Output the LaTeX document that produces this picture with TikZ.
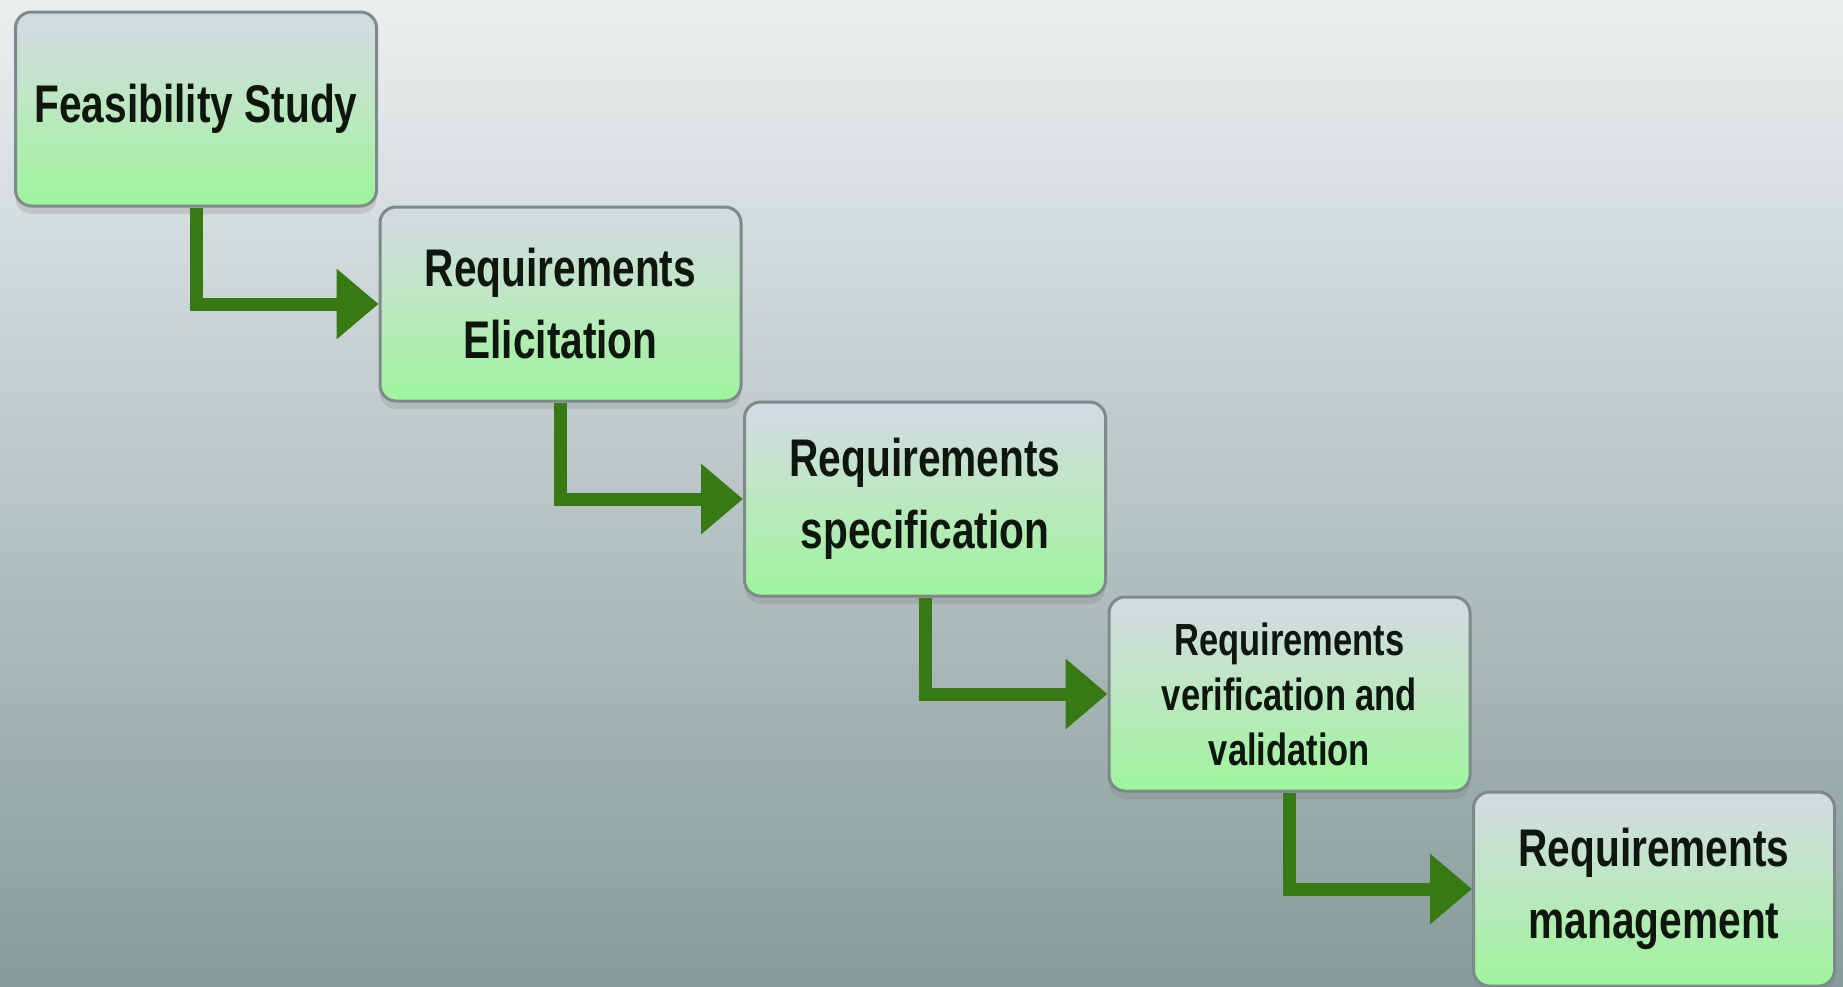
\documentclass[tikz,border=0pt]{standalone}
\usepackage{fontspec}
\newfontfamily\lblfont[FakeStretch=0.767]{Liberation Sans}
\usetikzlibrary{arrows.meta,shadows}
\definecolor{bgtop}{HTML}{ECEFF0}
\definecolor{bgmid}{HTML}{B9C5C6}
\definecolor{bgbot}{HTML}{879B9B}
\definecolor{boxtop}{HTML}{D4DAE4}
\definecolor{boxmid}{HTML}{BCE8C0}
\definecolor{boxbot}{HTML}{9EF59C}
\definecolor{boxline}{HTML}{7E8A8A}
\definecolor{flowgreen}{HTML}{377A14}
\definecolor{txt}{HTML}{0E160E}
\begin{document}
\begin{tikzpicture}[x=1pt,y=-1pt,
  stagebox/.style={rectangle, rounded corners=16pt, draw=boxline, line width=3pt,
    top color=boxtop, bottom color=boxbot, middle color=boxmid,
    minimum width=361pt, minimum height=194pt, align=center, text=txt,
    font=\lblfont\bfseries\fontsize{53}{72}\selectfont,
    drop shadow={opacity=0.25, shadow xshift=0pt, shadow yshift=-8pt}},
  smalltext/.style={font=\lblfont\bfseries\fontsize{45}{55}\selectfont},
  flow/.style={draw=flowgreen, line width=13pt,
    -{Triangle[length=42pt,width=68pt]}}
]
\useasboundingbox (0,0) rectangle (1843,986);
\shade[top color=bgtop, bottom color=bgbot, middle color=bgmid] (0,0) rectangle (1843,986);

\node[stagebox] (b1) at (196,109) {Feasibility Study};
\node[stagebox] (b2) at (560.5,304) {Requirements\\Elicitation};
\node[stagebox] (b3) at (925,499) {Requirements\\specification};
\node[stagebox, smalltext] (b4) at (1289.5,694) {Requirements\\verification and\\validation};
\node[stagebox] (b5) at (1654,889) {Requirements\\management};

\draw[flow] (b1.south) |- (b2.west);
\draw[flow] (b2.south) |- (b3.west);
\draw[flow] (b3.south) |- (b4.west);
\draw[flow] (b4.south) |- (b5.west);
\end{tikzpicture}
\end{document}
